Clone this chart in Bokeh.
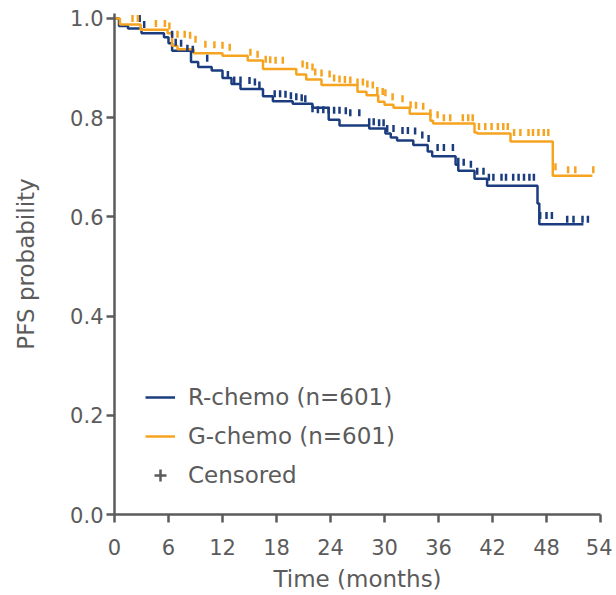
import numpy as np
from bokeh.plotting import figure
from bokeh.models import Legend, LegendItem, Range1d, FixedTicker
from bokeh.embed import file_html
from bokeh.resources import INLINE

# ---- data ----
r_times = [0, 0.5, 1.5, 3.0, 5.5, 6.0, 6.4, 8.5, 9.3, 10.8, 12.0, 13.0, 14.0, 16.5, 17.6,
           19.8, 22.0, 23.8, 25.0, 28.3, 30.1, 30.7, 31.4, 33.2, 34.8, 35.3, 37.9, 38.2,
           40.0, 41.4, 47.0, 47.2, 52.1]
r_surv = [1.0, 0.985, 0.98, 0.97, 0.962, 0.95, 0.935, 0.912, 0.902, 0.895, 0.88, 0.868, 0.858,
          0.843, 0.833, 0.828, 0.82, 0.796, 0.784, 0.778, 0.768, 0.76, 0.754, 0.745, 0.732,
          0.722, 0.705, 0.693, 0.677, 0.663, 0.627, 0.585, 0.585]

g_times = [0, 0.6, 2.9, 5.9, 6.4, 7.0, 8.8, 12.0, 14.8, 16.5, 20.2, 21.3, 23.0, 27.0, 28.0,
           29.3, 30.0, 31.0, 32.8, 35.1, 35.4, 40.0, 40.3, 44.0, 48.7, 53.1]
g_surv = [1.0, 0.988, 0.977, 0.97, 0.945, 0.938, 0.93, 0.925, 0.915, 0.898, 0.887, 0.877,
          0.866, 0.852, 0.845, 0.832, 0.826, 0.82, 0.808, 0.794, 0.788, 0.77, 0.768, 0.752,
          0.683, 0.683]

r_cens_t = [2.8, 3.3, 6.4, 6.8, 7.4, 8.1, 8.7, 10.3, 12.6, 13.3, 14.0, 15.0, 15.6, 16.1, 17.8,
            18.4, 19.0, 19.6, 20.2, 20.8, 21.2, 22.0, 22.6, 23.2, 23.8, 24.4, 25.0, 25.7, 26.2,
            27.2, 28.3, 28.8, 29.4, 29.9, 30.3, 31.0, 32.0, 32.6, 33.4, 34.2, 34.9, 35.9, 36.6,
            37.6, 38.2, 38.8, 39.6, 40.3, 41.0, 41.6, 42.1, 43.0, 43.5, 44.3, 44.9, 45.5, 46.1,
            46.6, 47.3, 48.0, 48.6, 50.3, 51.0, 52.0, 52.6]
r_cens_y = [1.0, 0.988, 0.968, 0.952, 0.95, 0.94, 0.938, 0.92, 0.887, 0.876, 0.876, 0.875,
            0.872, 0.866, 0.848, 0.848, 0.847, 0.844, 0.842, 0.84, 0.838, 0.818, 0.816, 0.816,
            0.815, 0.815, 0.815, 0.814, 0.81, 0.81, 0.792, 0.792, 0.79, 0.79, 0.778, 0.778,
            0.774, 0.774, 0.773, 0.765, 0.758, 0.74, 0.74, 0.74, 0.712, 0.71, 0.706, 0.692,
            0.692, 0.68, 0.68, 0.68, 0.68, 0.68, 0.68, 0.68, 0.68, 0.68, 0.603, 0.603, 0.603,
            0.595, 0.595, 0.595, 0.595]

g_cens_t = [2.0, 2.6, 4.6, 5.6, 6.1, 7.0, 7.8, 8.4, 9.0, 10.1, 11.1, 12.0, 12.8, 15.1, 15.9,
            16.8, 17.3, 17.9, 18.7, 20.9, 21.4, 22.0, 22.3, 23.0, 23.9, 24.4, 25.0, 25.6, 26.2,
            27.0, 27.6, 28.1, 28.7, 29.2, 29.8, 30.1, 30.9, 32.0, 32.9, 33.5, 34.3, 35.1, 35.9,
            36.6, 37.3, 38.7, 39.3, 39.8, 40.5, 41.2, 41.9, 42.6, 43.2, 43.7, 44.4, 45.1, 46.0,
            46.5, 47.1, 47.7, 48.2, 49.0, 50.4, 51.2, 53.2]
g_cens_y = [1.0, 1.0, 0.99, 0.99, 0.985, 0.968, 0.968, 0.966, 0.958, 0.948, 0.947, 0.946,
            0.942, 0.932, 0.928, 0.918, 0.917, 0.916, 0.916, 0.908, 0.905, 0.902, 0.892, 0.89,
            0.888, 0.88, 0.878, 0.877, 0.876, 0.872, 0.872, 0.868, 0.866, 0.855, 0.853, 0.85,
            0.842, 0.838, 0.826, 0.825, 0.823, 0.81, 0.806, 0.8, 0.8, 0.8, 0.8, 0.8, 0.782,
            0.782, 0.782, 0.782, 0.782, 0.782, 0.77, 0.77, 0.77, 0.77, 0.77, 0.77, 0.77, 0.701,
            0.695, 0.695, 0.695]

x_ticks = [0, 6, 12, 18, 24, 30, 36, 42, 48, 54]
y_ticks = [0.0, 0.2, 0.4, 0.6, 0.8, 1.0]
series_labels = ["R-chemo (n=601)", "G-chemo (n=601)", "Censored"]

BLUE = "#1b3d7f"
ORANGE = "#f6a420"
GREY = "#5b5b5b"
FONT = "DejaVu Sans"

p = figure(width=612, height=595, output_backend="svg", toolbar_location=None,
           x_range=Range1d(0, 54), y_range=Range1d(0, 1.01),
           min_border_left=114, min_border_right=12, min_border_top=13, min_border_bottom=81)
p.outline_line_color = None
p.grid.visible = False
p.background_fill_color = "white"

r_line = p.step(r_times, r_surv, mode="after", line_color=BLUE, line_width=2.5)
g_line = p.step(g_times, g_surv, mode="after", line_color=ORANGE, line_width=2.5)
p.scatter(r_cens_t, r_cens_y, marker="dash", angle=np.pi / 2, size=7,
          line_color=BLUE, line_width=2.5)
p.scatter(g_cens_t, g_cens_y, marker="dash", angle=np.pi / 2, size=7,
          line_color=ORANGE, line_width=2.5)
cens = p.scatter([np.nan], [np.nan], marker="cross", size=15, line_color=GREY, line_width=2.5)

for ax in (p.xaxis[0], p.yaxis[0]):
    ax.axis_line_color = GREY
    ax.axis_line_width = 2.5
    ax.major_tick_line_color = GREY
    ax.major_tick_line_width = 2.5
    ax.major_tick_in = 0
    ax.major_tick_out = 8
    ax.minor_tick_line_color = None
    ax.major_label_text_color = GREY
    ax.major_label_text_font = FONT
    ax.major_label_text_font_size = "21px"
    ax.axis_label_text_color = GREY
    ax.axis_label_text_font = FONT
    ax.axis_label_text_font_size = "23px"
    ax.axis_label_text_font_style = "normal"

p.xaxis.ticker = FixedTicker(ticks=x_ticks)
p.yaxis.ticker = FixedTicker(ticks=y_ticks)
p.yaxis.major_label_overrides = {v: f"{v:.1f}" for v in y_ticks}
p.xaxis.axis_label = "Time (months)"
p.yaxis.axis_label = "PFS probability"
p.xaxis.major_label_standoff = 16
p.yaxis.major_label_standoff = 3
p.xaxis.axis_label_standoff = 8
p.yaxis.axis_label_standoff = 28

legend = Legend(items=[LegendItem(label=series_labels[0], renderers=[r_line]),
                       LegendItem(label=series_labels[1], renderers=[g_line]),
                       LegendItem(label=series_labels[2], renderers=[cens])],
                location=(31, 21), padding=0, margin=0, spacing=3,
                glyph_width=30, glyph_height=36, label_height=36, label_standoff=13,
                label_text_font=FONT, label_text_font_size="23px", label_text_color=GREY,
                background_fill_alpha=0, border_line_color=None)
p.add_layout(legend)

open("out.html", "w").write(file_html(p, INLINE))
